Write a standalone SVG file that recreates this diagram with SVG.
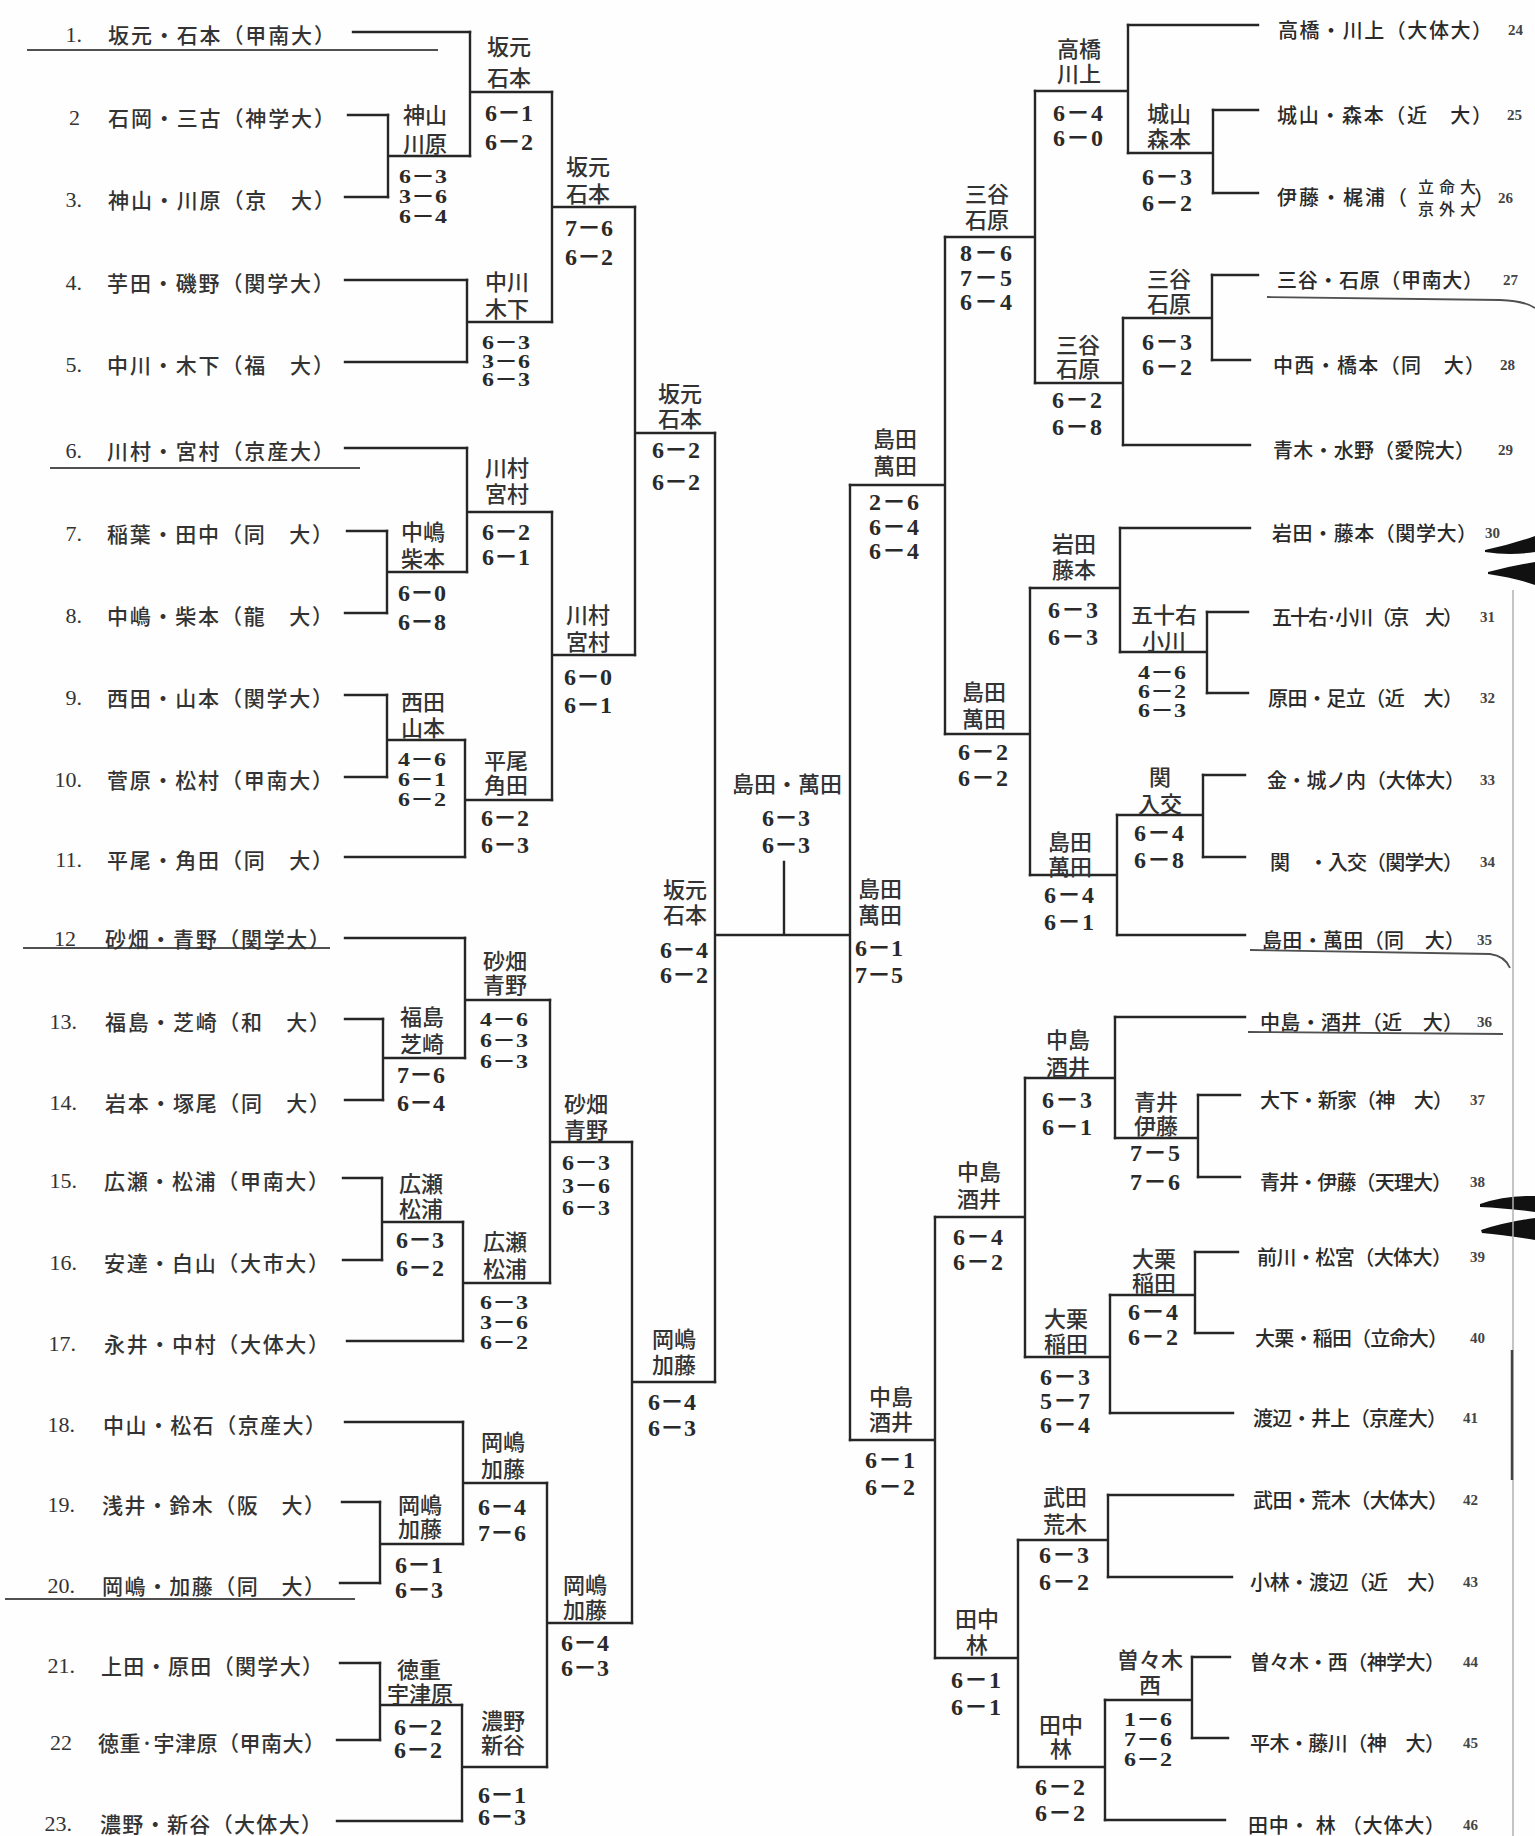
<svg xmlns="http://www.w3.org/2000/svg" width="1535" height="1836" viewBox="0 0 1535 1836">
<style>
.ln{fill:none;stroke:#262626;stroke-width:2.4;stroke-linecap:square}
.ul{fill:none;stroke:#505050;stroke-width:1.8}
.art{fill:#111}
text{dominant-baseline:central}
.nm{font-family:"Noto Sans CJK JP","Noto Sans CJK SC",sans-serif;font-size:21px;fill:#333;font-weight:500}
.rn{font-family:"Noto Sans CJK JP","Noto Sans CJK SC",sans-serif;font-size:20px;fill:#2a2a2a;font-weight:500}
.sm{font-family:"Noto Sans CJK JP","Noto Sans CJK SC",sans-serif;font-size:16px;fill:#2a2a2a;font-weight:500;text-anchor:middle}
.no{font-family:"Liberation Serif",serif;font-size:22px;fill:#333;text-anchor:end}
.rno{font-family:"Liberation Serif",serif;font-size:15px;fill:#444;font-weight:bold}
.w{font-family:"Noto Sans CJK JP","Noto Sans CJK SC",sans-serif;font-size:22px;fill:#333;font-weight:500;text-anchor:middle}
.s{font-family:"Liberation Serif","Noto Sans CJK JP",serif;font-size:24px;font-weight:bold;fill:#2a2a2a;text-anchor:middle}
</style>
<rect width="1535" height="1836" fill="#fefefe"/>
<g id="connectors" class="ln">
<path d="M353 32H470M348 115H388M345 197H388M345 280H467M345 362H467M345 448H467M347 531H387M345 613H387M345 695H387M345 777H387M345 857H465M345 938H465M345 1019H383M345 1100H383M343 1178H382M343 1260H382M347 1341H463M345 1422H463M342 1502H380M340 1583H380M340 1663H380M337 1740H380M337 1821H462"/>
<path d="M388 115V197M388 156H470M387 531V613M387 572H467M387 695V777M387 740H465M383 1019V1100M383 1058H465M382 1178V1260M382 1222H463M380 1502V1583M380 1544H463M380 1663V1740M380 1705H462"/>
<path d="M470 32V156M470 92H552M467 280V362M467 322H552M467 448V572M467 512H552M465 740V857M465 800H552M465 938V1058M465 1000H550M463 1222V1341M463 1283H550M463 1422V1544M463 1483H547M462 1705V1821M462 1767H547"/>
<path d="M552 92V322M552 207H635M552 512V800M552 655H635M550 1000V1283M550 1142H632M547 1483V1767M547 1623H632"/>
<path d="M635 207V655M635 433H715M632 1142V1623M632 1382H715"/>
<path d="M715 433V1382M715 935H850M784 935V862M850 485V1440"/>
<path d="M945 237V734M945 485H850M935 1217V1658M935 1440H850"/>
<path d="M1035 91V383M1035 237H945M1030 588V875M1030 734H945M1025 1078V1357M1025 1217H935M1018 1540V1767M1018 1658H935"/>
<path d="M1128 25V153M1128 91H1035M1123 318V445M1123 383H1035M1120 528V652M1120 588H1030M1117 815V935M1117 875H1030M1115 1017V1138M1115 1078H1025M1110 1295V1413M1110 1357H1025M1108 1495V1577M1108 1540H1018M1105 1700V1820M1105 1767H1018"/>
<path d="M1213 110V193M1213 153H1128M1212 275V360M1212 318H1123M1207 612V693M1207 652H1120M1203 775V857M1203 815H1117M1198 1095V1177M1198 1138H1115M1195 1252V1333M1195 1295H1110M1192 1657V1738M1192 1700H1105"/>
<path d="M1128 25H1258M1213 110H1258M1213 193H1258M1212 275H1258M1212 360H1250M1123 445H1250M1120 528H1250M1207 612H1248M1207 693H1248M1203 775H1245M1203 857H1245M1117 935H1245M1115 1017H1245M1198 1095H1240M1198 1177H1240M1195 1252H1238M1195 1333H1233M1110 1413H1233M1108 1495H1233M1108 1577H1232M1192 1657H1230M1192 1738H1228M1105 1820H1225"/>
</g>
<g id="underlines" class="ul">
<path d="M27 50H438M50 468H360M23 948H330M5 1599H355"/>
<path d="M1267 297L1500 300Q1525 301 1535 308M1250 950L1490 954Q1505 956 1510 968M1248 1032L1503 1034"/>
</g>
<g id="edge-marks">
<path class="art" d="M1485 550Q1510 545 1535 536L1535 552Q1510 556 1485 552Z"/>
<path class="art" d="M1488 572Q1510 566 1535 562L1535 585Q1515 578 1488 574Z"/>
<path class="art" d="M1480 1204Q1505 1195 1535 1196L1535 1212Q1505 1208 1480 1207Z"/>
<path class="art" d="M1481 1230Q1505 1222 1535 1218L1535 1240Q1505 1235 1482 1233Z"/>
<path d="M1513 590V1836" fill="none" stroke="#b0b0b0" stroke-width="1.5"/>
<path d="M1512 1350V1480" fill="none" stroke="#444" stroke-width="2.5"/>
</g>
<g id="entries-left">
<g id="e1"><text class="no" x="82" y="34">1.</text><text class="nm" x="108" y="34" textLength="227" lengthAdjust="spacing">坂元・石本（甲南大）</text></g>
<g id="e2"><text class="no" x="80" y="117">2</text><text class="nm" x="108" y="117" textLength="227" lengthAdjust="spacing">石岡・三古（神学大）</text></g>
<g id="e3"><text class="no" x="82" y="199">3.</text><text class="nm" x="108" y="199" textLength="227" lengthAdjust="spacing">神山・川原（京　大）</text></g>
<g id="e4"><text class="no" x="82" y="282">4.</text><text class="nm" x="107" y="282" textLength="227" lengthAdjust="spacing">芋田・磯野（関学大）</text></g>
<g id="e5"><text class="no" x="82" y="364">5.</text><text class="nm" x="107" y="364" textLength="227" lengthAdjust="spacing">中川・木下（福　大）</text></g>
<g id="e6"><text class="no" x="82" y="450">6.</text><text class="nm" x="107" y="450" textLength="227" lengthAdjust="spacing">川村・宮村（京産大）</text></g>
<g id="e7"><text class="no" x="82" y="533">7.</text><text class="nm" x="107" y="533" textLength="226" lengthAdjust="spacing">稲葉・田中（同　大）</text></g>
<g id="e8"><text class="no" x="82" y="615">8.</text><text class="nm" x="107" y="615" textLength="226" lengthAdjust="spacing">中嶋・柴本（龍　大）</text></g>
<g id="e9"><text class="no" x="82" y="697">9.</text><text class="nm" x="107" y="697" textLength="226" lengthAdjust="spacing">西田・山本（関学大）</text></g>
<g id="e10"><text class="no" x="82" y="779">10.</text><text class="nm" x="107" y="779" textLength="226" lengthAdjust="spacing">菅原・松村（甲南大）</text></g>
<g id="e11"><text class="no" x="82" y="859">11.</text><text class="nm" x="107" y="859" textLength="226" lengthAdjust="spacing">平尾・角田（同　大）</text></g>
<g id="e12"><text class="no" x="76" y="938">12</text><text class="nm" x="105" y="938" textLength="225" lengthAdjust="spacing">砂畑・青野（関学大）</text></g>
<g id="e13"><text class="no" x="77" y="1021">13.</text><text class="nm" x="105" y="1021" textLength="225" lengthAdjust="spacing">福島・芝崎（和　大）</text></g>
<g id="e14"><text class="no" x="77" y="1102">14.</text><text class="nm" x="105" y="1102" textLength="225" lengthAdjust="spacing">岩本・塚尾（同　大）</text></g>
<g id="e15"><text class="no" x="77" y="1180">15.</text><text class="nm" x="104" y="1180" textLength="225" lengthAdjust="spacing">広瀬・松浦（甲南大）</text></g>
<g id="e16"><text class="no" x="77" y="1262">16.</text><text class="nm" x="104" y="1262" textLength="225" lengthAdjust="spacing">安達・白山（大市大）</text></g>
<g id="e17"><text class="no" x="76" y="1343">17.</text><text class="nm" x="104" y="1343" textLength="225" lengthAdjust="spacing">永井・中村（大体大）</text></g>
<g id="e18"><text class="no" x="75" y="1424">18.</text><text class="nm" x="103" y="1424" textLength="223" lengthAdjust="spacing">中山・松石（京産大）</text></g>
<g id="e19"><text class="no" x="75" y="1504">19.</text><text class="nm" x="102" y="1504" textLength="223" lengthAdjust="spacing">浅井・鈴木（阪　大）</text></g>
<g id="e20"><text class="no" x="75" y="1585">20.</text><text class="nm" x="102" y="1585" textLength="223" lengthAdjust="spacing">岡嶋・加藤（同　大）</text></g>
<g id="e21"><text class="no" x="75" y="1665">21.</text><text class="nm" x="101" y="1665" textLength="222" lengthAdjust="spacing">上田・原田（関学大）</text></g>
<g id="e22"><text class="no" x="72" y="1742">22</text><text class="nm" x="98" y="1742" textLength="227" lengthAdjust="spacing">徳重·宇津原（甲南大）</text></g>
<g id="e23"><text class="no" x="72" y="1823">23.</text><text class="nm" x="100" y="1823" textLength="222" lengthAdjust="spacing">濃野・新谷（大体大）</text></g>
</g>
<g id="entries-right">
<g id="e24"><text class="rn" x="1278" y="29" textLength="214" lengthAdjust="spacing">高橋・川上（大体大）</text><text class="rno" x="1508" y="30">24</text></g>
<g id="e25"><text class="rn" x="1277" y="114" textLength="215" lengthAdjust="spacing">城山・森本（近　大）</text><text class="rno" x="1507" y="115">25</text></g>
<g id="e26"><text class="rn" x="1277" y="196" textLength="130" lengthAdjust="spacing">伊藤・梶浦（</text><text class="sm" x="1447" y="186" textLength="58" lengthAdjust="spacing">立命大</text><text class="sm" x="1447" y="208" textLength="58" lengthAdjust="spacing">京外大</text><text class="rn" x="1474" y="196">）</text><text class="rno" x="1498" y="198">26</text></g>
<g id="e27"><text class="rn" x="1277" y="279" textLength="206" lengthAdjust="spacing">三谷・石原（甲南大）</text><text class="rno" x="1503" y="280">27</text></g>
<g id="e28"><text class="rn" x="1273" y="364" textLength="212" lengthAdjust="spacing">中西・橋本（同　大）</text><text class="rno" x="1500" y="365">28</text></g>
<g id="e29"><text class="rn" x="1273" y="449" textLength="202" lengthAdjust="spacing">青木・水野（愛院大）</text><text class="rno" x="1498" y="450">29</text></g>
<g id="e30"><text class="rn" x="1272" y="532" textLength="205" lengthAdjust="spacing">岩田・藤本（関学大）</text><text class="rno" x="1485" y="533">30</text></g>
<g id="e31"><text class="rn" x="1272" y="616" textLength="191" lengthAdjust="spacing">五十右·小川（京　大）</text><text class="rno" x="1480" y="617">31</text></g>
<g id="e32"><text class="rn" x="1268" y="697" textLength="195" lengthAdjust="spacing">原田・足立（近　大）</text><text class="rno" x="1480" y="698">32</text></g>
<g id="e33"><text class="rn" x="1267" y="779" textLength="198" lengthAdjust="spacing">金・城ノ内（大体大）</text><text class="rno" x="1480" y="780">33</text></g>
<g id="e34"><text class="rn" x="1270" y="861" textLength="193" lengthAdjust="spacing">関　・入交（関学大）</text><text class="rno" x="1480" y="862">34</text></g>
<g id="e35"><text class="rn" x="1262" y="939" textLength="203" lengthAdjust="spacing">島田・萬田（同　大）</text><text class="rno" x="1477" y="940">35</text></g>
<g id="e36"><text class="rn" x="1260" y="1021" textLength="203" lengthAdjust="spacing">中島・酒井（近　大）</text><text class="rno" x="1477" y="1022">36</text></g>
<g id="e37"><text class="rn" x="1260" y="1099" textLength="193" lengthAdjust="spacing">大下・新家（神　大）</text><text class="rno" x="1470" y="1100">37</text></g>
<g id="e38"><text class="rn" x="1260" y="1181" textLength="192" lengthAdjust="spacing">青井・伊藤（天理大）</text><text class="rno" x="1470" y="1182">38</text></g>
<g id="e39"><text class="rn" x="1257" y="1256" textLength="195" lengthAdjust="spacing">前川・松宮（大体大）</text><text class="rno" x="1470" y="1257">39</text></g>
<g id="e40"><text class="rn" x="1255" y="1337" textLength="193" lengthAdjust="spacing">大栗・稲田（立命大）</text><text class="rno" x="1470" y="1338">40</text></g>
<g id="e41"><text class="rn" x="1253" y="1417" textLength="194" lengthAdjust="spacing">渡辺・井上（京産大）</text><text class="rno" x="1463" y="1418">41</text></g>
<g id="e42"><text class="rn" x="1253" y="1499" textLength="195" lengthAdjust="spacing">武田・荒木（大体大）</text><text class="rno" x="1463" y="1500">42</text></g>
<g id="e43"><text class="rn" x="1250" y="1581" textLength="197" lengthAdjust="spacing">小林・渡辺（近　大）</text><text class="rno" x="1463" y="1582">43</text></g>
<g id="e44"><text class="rn" x="1250" y="1661" textLength="195" lengthAdjust="spacing">曽々木・西（神学大）</text><text class="rno" x="1463" y="1662">44</text></g>
<g id="e45"><text class="rn" x="1250" y="1742" textLength="195" lengthAdjust="spacing">平木・藤川（神　大）</text><text class="rno" x="1463" y="1743">45</text></g>
<g id="e46"><text class="rn" x="1248" y="1824" textLength="197" lengthAdjust="spacing">田中・ 林 （大体大）</text><text class="rno" x="1463" y="1825">46</text></g>
</g>
<g id="results">
<g id="m-2-3"><text class="w" x="425" y="113">神山</text><text class="w" x="425" y="142">川原</text><text class="s" transform="matrix(1 0 0 0.8 423 177)" textLength="48">6－3</text><text class="s" transform="matrix(1 0 0 0.8 423 197)" textLength="48">3－6</text><text class="s" transform="matrix(1 0 0 0.8 423 217)" textLength="48">6－4</text></g>
<g id="m-7-8"><text class="w" x="423" y="530">中嶋</text><text class="w" x="423" y="557">柴本</text><text class="s" x="422" y="593" textLength="48">6－0</text><text class="s" x="422" y="622" textLength="48">6－8</text></g>
<g id="m-9-10"><text class="w" x="423" y="700">西田</text><text class="w" x="423" y="726">山本</text><text class="s" transform="matrix(1 0 0 0.8 422 760)" textLength="48">4－6</text><text class="s" transform="matrix(1 0 0 0.8 422 780)" textLength="48">6－1</text><text class="s" transform="matrix(1 0 0 0.8 422 800)" textLength="48">6－2</text></g>
<g id="m-13-14"><text class="w" x="422" y="1015">福島</text><text class="w" x="422" y="1042">芝崎</text><text class="s" x="421" y="1075" textLength="48">7－6</text><text class="s" x="421" y="1103" textLength="48">6－4</text></g>
<g id="m-15-16"><text class="w" x="421" y="1182">広瀬</text><text class="w" x="421" y="1207">松浦</text><text class="s" x="420" y="1240" textLength="48">6－3</text><text class="s" x="420" y="1268" textLength="48">6－2</text></g>
<g id="m-19-20"><text class="w" x="420" y="1503">岡嶋</text><text class="w" x="420" y="1527">加藤</text><text class="s" x="419" y="1565" textLength="48">6－1</text><text class="s" x="419" y="1590" textLength="48">6－3</text></g>
<g id="m-21-22"><text class="w" x="419" y="1668">徳重</text><text class="w" x="420" y="1692">宇津原</text><text class="s" x="418" y="1727" textLength="48">6－2</text><text class="s" x="418" y="1750" textLength="48">6－2</text></g>
<g id="m-1-3"><text class="w" x="509" y="45">坂元</text><text class="w" x="509" y="76">石本</text><text class="s" x="509" y="113" textLength="48">6－1</text><text class="s" x="509" y="142" textLength="48">6－2</text></g>
<g id="m-4-5"><text class="w" x="507" y="280">中川</text><text class="w" x="507" y="307">木下</text><text class="s" transform="matrix(1 0 0 0.8 506 343)" textLength="48">6－3</text><text class="s" transform="matrix(1 0 0 0.8 506 362)" textLength="48">3－6</text><text class="s" transform="matrix(1 0 0 0.8 506 380)" textLength="48">6－3</text></g>
<g id="m-6-8"><text class="w" x="507" y="466">川村</text><text class="w" x="507" y="492">宮村</text><text class="s" x="506" y="532" textLength="48">6－2</text><text class="s" x="506" y="557" textLength="48">6－1</text></g>
<g id="m-9-11"><text class="w" x="506" y="759">平尾</text><text class="w" x="506" y="783">角田</text><text class="s" x="505" y="818" textLength="48">6－2</text><text class="s" x="505" y="845" textLength="48">6－3</text></g>
<g id="m-12-14"><text class="w" x="505" y="959">砂畑</text><text class="w" x="505" y="983">青野</text><text class="s" transform="matrix(1 0 0 0.8 504 1020)" textLength="48">4－6</text><text class="s" transform="matrix(1 0 0 0.8 504 1041)" textLength="48">6－3</text><text class="s" transform="matrix(1 0 0 0.8 504 1062)" textLength="48">6－3</text></g>
<g id="m-15-17"><text class="w" x="505" y="1240">広瀬</text><text class="w" x="505" y="1267">松浦</text><text class="s" transform="matrix(1 0 0 0.8 504 1303)" textLength="48">6－3</text><text class="s" transform="matrix(1 0 0 0.8 504 1323)" textLength="48">3－6</text><text class="s" transform="matrix(1 0 0 0.8 504 1343)" textLength="48">6－2</text></g>
<g id="m-18-20"><text class="w" x="503" y="1440">岡嶋</text><text class="w" x="503" y="1467">加藤</text><text class="s" x="502" y="1507" textLength="48">6－4</text><text class="s" x="502" y="1533" textLength="48">7－6</text></g>
<g id="m-21-23"><text class="w" x="503" y="1719">濃野</text><text class="w" x="503" y="1743">新谷</text><text class="s" x="502" y="1795" textLength="48">6－1</text><text class="s" x="502" y="1817" textLength="48">6－3</text></g>
<g id="m-1-5"><text class="w" x="588" y="165">坂元</text><text class="w" x="588" y="192">石本</text><text class="s" x="589" y="228" textLength="48">7－6</text><text class="s" x="589" y="257" textLength="48">6－2</text></g>
<g id="m-6-11"><text class="w" x="588" y="613">川村</text><text class="w" x="588" y="640">宮村</text><text class="s" x="588" y="677" textLength="48">6－0</text><text class="s" x="588" y="705" textLength="48">6－1</text></g>
<g id="m-12-17"><text class="w" x="586" y="1102">砂畑</text><text class="w" x="586" y="1128">青野</text><text class="s" transform="matrix(1 0 0 0.85 586 1163)" textLength="48">6－3</text><text class="s" transform="matrix(1 0 0 0.85 586 1186)" textLength="48">3－6</text><text class="s" transform="matrix(1 0 0 0.85 586 1208)" textLength="48">6－3</text></g>
<g id="m-18-23"><text class="w" x="585" y="1583">岡嶋</text><text class="w" x="585" y="1608">加藤</text><text class="s" x="585" y="1643" textLength="48">6－4</text><text class="s" x="585" y="1668" textLength="48">6－3</text></g>
<g id="m-1-11"><text class="w" x="680" y="392">坂元</text><text class="w" x="680" y="417">石本</text><text class="s" x="676" y="450" textLength="48">6－2</text><text class="s" x="676" y="482" textLength="48">6－2</text></g>
<g id="m-12-23"><text class="w" x="674" y="1337">岡嶋</text><text class="w" x="674" y="1363">加藤</text><text class="s" x="672" y="1402" textLength="48">6－4</text><text class="s" x="672" y="1428" textLength="48">6－3</text></g>
<g id="m-semi-left"><text class="w" x="685" y="888">坂元</text><text class="w" x="685" y="913">石本</text><text class="s" x="684" y="950" textLength="48">6－4</text><text class="s" x="684" y="975" textLength="48">6－2</text></g>
<g id="m-final"><text class="w" x="787" y="782" textLength="110" lengthAdjust="spacing">島田・萬田</text><text class="s" x="786" y="818" textLength="48">6－3</text><text class="s" x="786" y="845" textLength="48">6－3</text></g>
<g id="m-semi-right"><text class="w" x="880" y="887">島田</text><text class="w" x="880" y="913">萬田</text><text class="s" x="879" y="948" textLength="48">6－1</text><text class="s" x="879" y="975" textLength="48">7－5</text></g>
<g id="m-24-35"><text class="w" x="895" y="437">島田</text><text class="w" x="895" y="464">萬田</text><text class="s" x="894" y="502" textLength="50">2－6</text><text class="s" x="894" y="527" textLength="50">6－4</text><text class="s" x="894" y="551" textLength="50">6－4</text></g>
<g id="m-36-46"><text class="w" x="891" y="1395">中島</text><text class="w" x="891" y="1420">酒井</text><text class="s" x="890" y="1460" textLength="50">6－1</text><text class="s" x="890" y="1487" textLength="50">6－2</text></g>
<g id="m-24-29"><text class="w" x="987" y="192">三谷</text><text class="w" x="987" y="218">石原</text><text class="s" x="986" y="253" textLength="52">8－6</text><text class="s" x="986" y="278" textLength="52">7－5</text><text class="s" x="986" y="302" textLength="52">6－4</text></g>
<g id="m-30-35"><text class="w" x="984" y="690">島田</text><text class="w" x="984" y="717">萬田</text><text class="s" x="983" y="752" textLength="50">6－2</text><text class="s" x="983" y="778" textLength="50">6－2</text></g>
<g id="m-36-41"><text class="w" x="979" y="1170">中島</text><text class="w" x="979" y="1197">酒井</text><text class="s" x="978" y="1237" textLength="50">6－4</text><text class="s" x="978" y="1262" textLength="50">6－2</text></g>
<g id="m-42-46"><text class="w" x="977" y="1617">田中</text><text class="w" x="977" y="1643">林</text><text class="s" x="976" y="1680" textLength="50">6－1</text><text class="s" x="976" y="1707" textLength="50">6－1</text></g>
<g id="m-24-26"><text class="w" x="1079" y="47">高橋</text><text class="w" x="1079" y="72">川上</text><text class="s" x="1078" y="113" textLength="50">6－4</text><text class="s" x="1078" y="138" textLength="50">6－0</text></g>
<g id="m-27-29"><text class="w" x="1078" y="343">三谷</text><text class="w" x="1078" y="367">石原</text><text class="s" x="1077" y="400" textLength="50">6－2</text><text class="s" x="1077" y="427" textLength="50">6－8</text></g>
<g id="m-30-32"><text class="w" x="1074" y="542">岩田</text><text class="w" x="1074" y="568">藤本</text><text class="s" x="1073" y="610" textLength="50">6－3</text><text class="s" x="1073" y="637" textLength="50">6－3</text></g>
<g id="m-33-35"><text class="w" x="1070" y="840">島田</text><text class="w" x="1070" y="865">萬田</text><text class="s" x="1069" y="895" textLength="50">6－4</text><text class="s" x="1069" y="922" textLength="50">6－1</text></g>
<g id="m-36-38"><text class="w" x="1068" y="1038">中島</text><text class="w" x="1068" y="1065">酒井</text><text class="s" x="1067" y="1100" textLength="50">6－3</text><text class="s" x="1067" y="1127" textLength="50">6－1</text></g>
<g id="m-39-41"><text class="w" x="1066" y="1317">大栗</text><text class="w" x="1066" y="1342">稲田</text><text class="s" x="1065" y="1377" textLength="50">6－3</text><text class="s" x="1065" y="1401" textLength="50">5－7</text><text class="s" x="1065" y="1425" textLength="50">6－4</text></g>
<g id="m-42-43"><text class="w" x="1065" y="1495">武田</text><text class="w" x="1065" y="1522">荒木</text><text class="s" x="1064" y="1555" textLength="50">6－3</text><text class="s" x="1064" y="1582" textLength="50">6－2</text></g>
<g id="m-44-46"><text class="w" x="1061" y="1723">田中</text><text class="w" x="1061" y="1747">林</text><text class="s" x="1060" y="1787" textLength="50">6－2</text><text class="s" x="1060" y="1813" textLength="50">6－2</text></g>
<g id="m-25-26"><text class="w" x="1169" y="112">城山</text><text class="w" x="1169" y="137">森本</text><text class="s" x="1167" y="177" textLength="50">6－3</text><text class="s" x="1167" y="203" textLength="50">6－2</text></g>
<g id="m-27-28"><text class="w" x="1169" y="277">三谷</text><text class="w" x="1169" y="302">石原</text><text class="s" x="1167" y="342" textLength="50">6－3</text><text class="s" x="1167" y="367" textLength="50">6－2</text></g>
<g id="m-31-32"><text class="w" x="1164" y="613">五十右</text><text class="w" x="1164" y="639">小川</text><text class="s" transform="matrix(1 0 0 0.8 1162 673)" textLength="48">4－6</text><text class="s" transform="matrix(1 0 0 0.8 1162 692)" textLength="48">6－2</text><text class="s" transform="matrix(1 0 0 0.8 1162 711)" textLength="48">6－3</text></g>
<g id="m-33-34"><text class="w" x="1160" y="775">関</text><text class="w" x="1160" y="802">入交</text><text class="s" x="1159" y="833" textLength="50">6－4</text><text class="s" x="1159" y="860" textLength="50">6－8</text></g>
<g id="m-37-38"><text class="w" x="1156" y="1100">青井</text><text class="w" x="1156" y="1124">伊藤</text><text class="s" x="1155" y="1153" textLength="50">7－5</text><text class="s" x="1155" y="1182" textLength="50">7－6</text></g>
<g id="m-39-40"><text class="w" x="1154" y="1257">大栗</text><text class="w" x="1154" y="1281">稲田</text><text class="s" x="1153" y="1312" textLength="50">6－4</text><text class="s" x="1153" y="1337" textLength="50">6－2</text></g>
<g id="m-44-45"><text class="w" x="1150" y="1658">曽々木</text><text class="w" x="1150" y="1683">西</text><text class="s" transform="matrix(1 0 0 0.8 1148 1720)" textLength="48">1－6</text><text class="s" transform="matrix(1 0 0 0.8 1148 1740)" textLength="48">7－6</text><text class="s" transform="matrix(1 0 0 0.8 1148 1760)" textLength="48">6－2</text></g>
</g>
</svg>
